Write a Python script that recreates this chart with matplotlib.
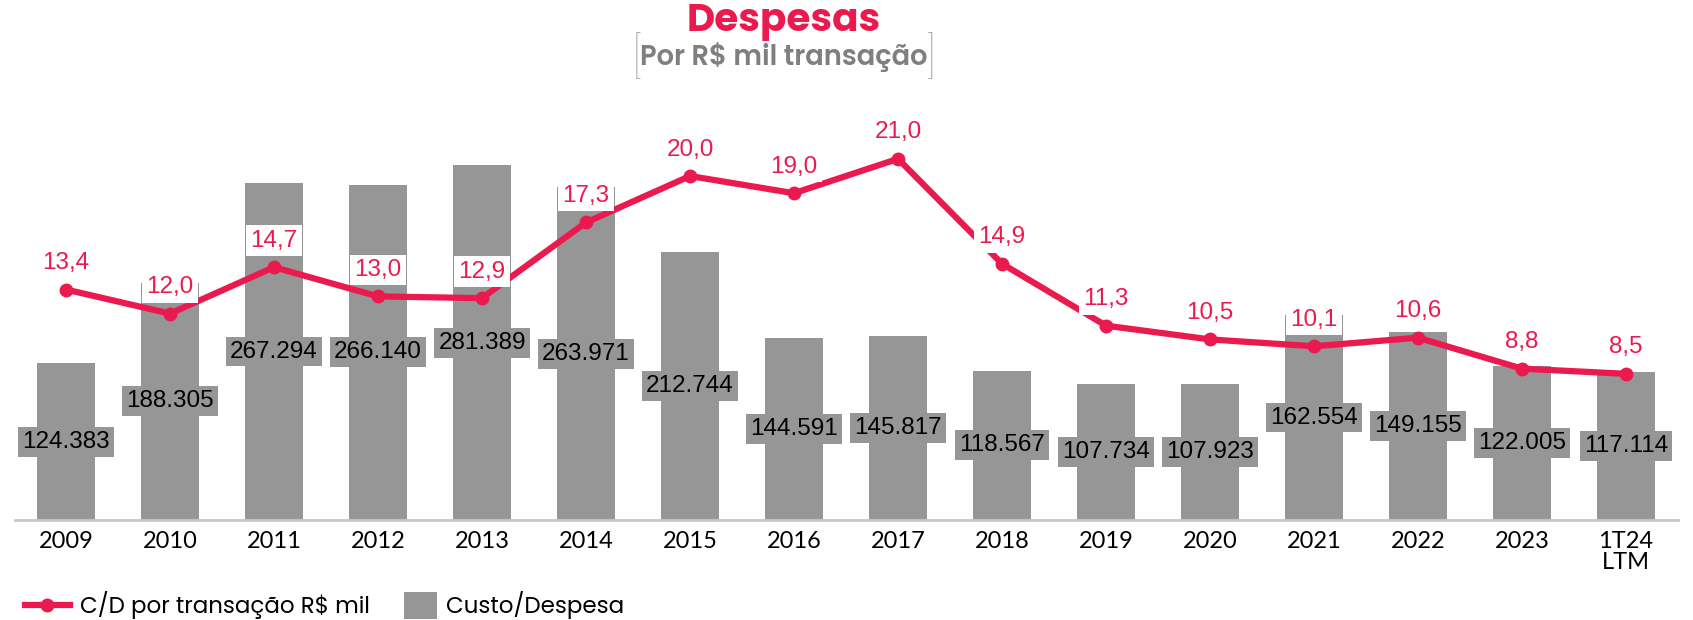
import numpy as np
import matplotlib
matplotlib.use("Agg")
import matplotlib.pyplot as plt
from matplotlib.lines import Line2D
from matplotlib.patches import Patch

# --- dados ---
anos = ["2009", "2010", "2011", "2012", "2013", "2014", "2015", "2016",
        "2017", "2018", "2019", "2020", "2021", "2022", "2023", "1T24\nLTM"]
custo = [124383, 188305, 267294, 266140, 281389, 263971, 212744, 144591,
         145817, 118567, 107734, 107923, 162554, 149155, 122005, 117114]
cd_transacao = [13.4, 12.0, 14.7, 13.0, 12.9, 17.3, 20.0, 19.0,
                21.0, 14.9, 11.3, 10.5, 10.1, 10.6, 8.8, 8.5]

VERMELHO = "#EB1A4E"
CINZA = "#969696"
NUM_FONT = ["Liberation Sans", "DejaVu Sans"]
TICK_FONT = ["Lato", "Liberation Sans", "DejaVu Sans"]
GEO_FONT = ["Poppins", "Inter", "DejaVu Sans"]

fig = plt.figure(figsize=(16.93, 6.2), dpi=100)
ax = fig.add_axes([0.0089, 0.1613, 0.9822, 0.6774])
x = np.arange(len(anos))

ax.bar(x, custo, width=0.56, color=CINZA, zorder=2)
ax.set_ylim(0, 333300)
ax.set_xlim(-0.49, len(anos) - 0.5)

for xi, v in zip(x, custo):
    txt = f"{v:,}".replace(",", ".")
    ax.text(xi, v / 2, txt, ha="center", va="center", fontsize=17.5,
            family=NUM_FONT, color="black", zorder=3,
            bbox=dict(boxstyle="square,pad=0.16", fc=CINZA, ec="none"))

# eixo secundário para a linha
ax2 = ax.twinx()
ax2.set_ylim(0, 24.42)
ax2.plot(x, cd_transacao, color=VERMELHO, lw=4.5, marker="o", ms=9,
         solid_capstyle="round", zorder=5)
for xi, v in zip(x, cd_transacao):
    ax2.annotate(f"{v:.1f}".replace(".", ","), (xi, v), xytext=(0, 19),
                 textcoords="offset points", ha="center", va="center",
                 fontsize=17.5, family=NUM_FONT, color=VERMELHO, zorder=6,
                 bbox=dict(boxstyle="square,pad=0.18", fc="white", ec="none"))

for a in (ax, ax2):
    for s in a.spines.values():
        s.set_visible(False)
    a.set_yticks([])
ax.spines["bottom"].set_visible(True)
ax.spines["bottom"].set_color("#c8c8c8")
ax.spines["bottom"].set_linewidth(2)
ax.set_xticks(x)
ax.set_xticklabels(anos, fontsize=17, family=TICK_FONT, linespacing=1.0)
ax.tick_params(axis="x", length=0, pad=8)

# títulos
fig.text(0.463, 0.965, "Despesas", ha="center", va="center", fontsize=28,
         fontweight="bold", color=VERMELHO, family=GEO_FONT)
sub = fig.text(0.463, 0.908, "Por R$ mil transação", ha="center", va="center",
               fontsize=19.7, fontweight="semibold", color="#7f7f7f",
               family=GEO_FONT)
fig.canvas.draw()
bb = sub.get_window_extent().transformed(fig.transFigure.inverted())
fig.text(bb.x0 + 0.001, 0.905, "[", ha="right", va="center", fontsize=30,
         fontweight="light", color="#8f8f8f", family=GEO_FONT)
fig.text(bb.x1 - 0.001, 0.905, "]", ha="left", va="center", fontsize=30,
         fontweight="light", color="#8f8f8f", family=GEO_FONT)

# legenda (duas partes)
leg1 = fig.legend([Line2D([0], [0], color=VERMELHO, lw=4.5, marker="o", ms=9)],
                  ["C/D por transação R$ mil"], loc="center left",
                  bbox_to_anchor=(25 / 1693, 0.024), frameon=False,
                  prop={"family": GEO_FONT, "size": 16.5}, handlelength=1.95,
                  handletextpad=0.45, borderaxespad=0, borderpad=0)
leg2 = fig.legend([Patch(facecolor=CINZA, edgecolor="none")],
                  ["Custo/Despesa"], loc="center left",
                  bbox_to_anchor=(404 / 1693, 0.024), frameon=False,
                  prop={"family": GEO_FONT, "size": 16.5}, handlelength=1.45,
                  handleheight=1.4, handletextpad=0.4, borderaxespad=0,
                  borderpad=0)

fig.savefig("out.png", dpi=100)
